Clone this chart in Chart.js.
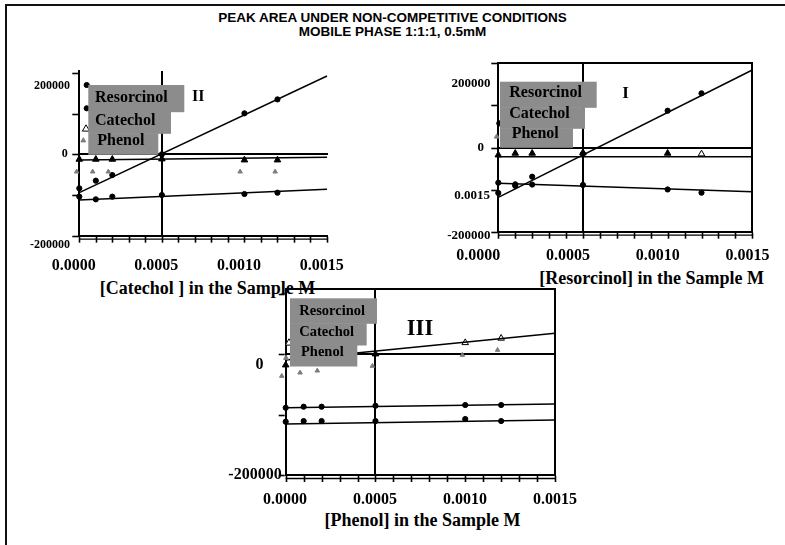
<!DOCTYPE html>
<html>
<head>
<meta charset="utf-8">
<script src="https://cdn.jsdelivr.net/npm/chart.js@4.4.1/dist/chart.umd.min.js"></script>
<style>
  html, body { margin: 0; padding: 0; background: #fff; }
  body { width: 785px; height: 545px; position: relative; overflow: hidden; }
  #frame { position: absolute; left: 5px; top: 4px; width: 800px; height: 560px;
           border-left: 2px solid #111; border-top: 2px solid #111; }
  .title { position: absolute; left: 0; width: 785px; text-align: center; line-height: 14px;
           font: bold 13.5px "Liberation Sans", Arial, sans-serif; color: #000; }
  .axis-title { position: absolute; width: 400px; text-align: center; line-height: 20px; white-space: nowrap;
                font: bold 18px "Liberation Serif", "Times New Roman", serif; color: #000; }
  canvas { position: absolute; left: 0; top: 0; }
</style>
</head>
<body>
<div id="frame"></div>
<div class="title" style="top:10px">PEAK AREA UNDER NON-COMPETITIVE CONDITIONS</div>
<div class="title" style="top:24px">MOBILE PHASE 1:1:1, 0.5mM</div>
<div class="axis-title" style="left:7.5px; top:278px">[Catechol ] in the Sample M</div>
<div class="axis-title" style="left:451.7px; top:268px">[Resorcinol] in the Sample M</div>
<div class="axis-title" style="left:222.5px; top:510px">[Phenol] in the Sample M</div>
<canvas id="panelII" width="785" height="545"></canvas>
<canvas id="panelI" width="785" height="545"></canvas>
<canvas id="panelIII" width="785" height="545"></canvas>
<script>
// ---- data -------------------------------------------------------------
const concentration = [0, 0.0001, 0.0002, 0.0005, 0.0010, 0.0012];   // M
const trendX = [0, 0.0015];                                          // trendline ends
const xTickLabels = [0, 0.0005, 0.0010, 0.0015];
const xTickMarks = [0, 0.0001, 0.0002, 0.0003, 0.0004, 0.0005, 0.0006, 0.0007,
                    0.0008, 0.0009, 0.0010, 0.0011, 0.0012, 0.0013, 0.0014, 0.0015];
const yTickLabels = [200000, -200000];
const yTickMarks = [-200000, -100000, 0, 100000, 200000];
const seriesNames = ['Resorcinol', 'Catechol', 'Phenol'];

// I: resorcinol varied
const resorcinolI = [-108000, -91000, -69400, -15000, 87400, 128700];
const catecholI   = [-83600, -87400, -88000, -89000, -99700, -107300];
const phenolI     = [-17800, -13800, -13800, -12300, -13800, -15400];
const resorcinolTrendI = [-118300, 184000];
const catecholTrendI   = [-85000, -105000];
const phenolTrendI     = [-21800, -21800];

// II: catechol varied
const resorcinolII = [-104000, -110600, -104000, -100000, -97500, -94300];
const catecholII   = [-83500, -64800, -50900, 0, 100700, 135000];
const phenolII     = [-12300, -12300, -12300, -11500, -14000, -14000];
const resorcinolTrendII = [-112300, -86000];
const catecholTrendII   = [-94300, 192400];
const phenolTrendII     = [-14000, -7400];
const phenolRepeatXII = [-0.000016, 0.000081, 0.000176, 0.000974, 0.001186];
const phenolRepeatII  = [-42700, -42700, -42700, -42700, -42700];

// III: phenol varied
const resorcinolIII = [-88800, -87100, -87100, -85500, -84300, -84300];
const catecholIII   = [-111900, -110800, -110800, -110800, -107400, -110800];
const phenolIII     = [-18200, -7000, -4000, 0, 18700, 26000];
const resorcinolTrendIII = [-88800, -82700];
const catecholTrendIII   = [-115700, -109100];
const phenolTrendIII     = [-9900, 34200];
const phenolRepeatXIII = [-0.000022, 0.00008, 0.000176, 0.000483, 0.000984, 0.00118];
const phenolRepeatIII  = [-36400, -30900, -27600, -19800, -1650, 6600];

// ---- helpers ----------------------------------------------------------
const SERIF = '"Liberation Serif", "Times New Roman", serif';
const BLACK = '#000';
const GREY_MARK = '#7d7d7d';
const LEGEND_FILL = '#8c8c8c';
const CLEAR = 'rgba(0,0,0,0)';
const X_MAX = 0.0015;
const Y_MIN = -200000;
const TICK_LEN = 6;

const pts = (xs, ys) => xs.map((x, i) => ({ x, y: ys[i] }));
const flatW = s => { s.width = 0; };
const flatH = s => { s.height = 0; };
const near = (a, b) => Math.abs(a - b) < 1e-9;
const serif = size => ({ family: SERIF, weight: 'bold', size });

// min/max of a vertical axis whose value v sits at pixel p, with ppu pixels per unit
function shiftedY(area, v, p, ppu) {
  return { min: v - (area.bottom - p) / ppu, max: v + (p - area.top) / ppu };
}
// min/max of a horizontal axis whose value v sits at pixel p
function shiftedX(area, v, p, ppu) {
  return { min: v - (p - area.left) / ppu, max: v + (area.right - p) / ppu };
}

// axes that only carry tick labels, anchored to a value of the data axes
function labelAxisX(values, range, size, padding) {
  return {
    axis: 'x', type: 'linear', position: { y: Y_MIN }, min: range.min, max: range.max, bounds: 'data',
    afterFit: flatH,
    afterBuildTicks: s => { s.ticks = values.map(v => ({ value: v })); },
    ticks: { autoSkip: false, maxRotation: 0, minRotation: 0, padding, color: BLACK,
             font: serif(size), callback: v => v.toFixed(4) },
    grid: { display: false, drawTicks: false },
    border: { display: false }
  };
}
function labelAxisY(values, range, atX, size, format) {
  return {
    axis: 'y', type: 'linear', position: { x: atX }, min: range.min, max: range.max, bounds: 'data',
    afterFit: flatW,
    afterBuildTicks: s => { s.ticks = values.map(v => ({ value: v })); },
    ticks: { autoSkip: false, padding: 0, color: BLACK, font: serif(size), callback: format },
    grid: { display: false, drawTicks: false },
    border: { display: false }
  };
}

// plain axis line: panel frame and the axis crossing at y = 0
function lineAxis(axis, position, width) {
  const horizontal = axis === 'x';
  return {
    axis, type: 'linear', position, min: 0, max: 1,
    afterFit: horizontal ? flatH : flatW,
    ticks: { display: false },
    grid: { display: false, drawTicks: false },
    border: { display: true, color: BLACK, width: width || 2 }
  };
}

const trend = ys => ({
  data: pts(trendX, ys), showLine: true, borderColor: BLACK, borderWidth: 1.5,
  pointRadius: 0, clip: false, xAxisID: 'x', yAxisID: 'y'
});
const marks = (xs, ys, style, r, fill, stroke) => ({
  data: pts(xs, ys), showLine: false, pointStyle: style, pointRadius: r,
  pointBackgroundColor: fill, pointBorderColor: stroke || BLACK, pointBorderWidth: 1,
  clip: false, xAxisID: 'x', yAxisID: 'y'
});

function drawMark(ctx, m) {
  ctx.beginPath();
  if (m.style === 'circle') {
    ctx.arc(m.x, m.y, m.r, 0, Math.PI * 2);
  } else {
    ctx.moveTo(m.x, m.y - m.r);
    ctx.lineTo(m.x + m.r * 0.866, m.y + m.r * 0.5);
    ctx.lineTo(m.x - m.r * 0.866, m.y + m.r * 0.5);
    ctx.closePath();
  }
  ctx.fillStyle = m.fill; ctx.fill();
  ctx.strokeStyle = m.stroke || m.fill; ctx.lineWidth = 1; ctx.stroke();
}

function segment(ctx, x1, y1, x2, y2) {
  ctx.beginPath(); ctx.moveTo(x1, y1); ctx.lineTo(x2, y2); ctx.stroke();
}

// outward tick marks, doubled base line, grey legend boxes, legend keys, panel numeral
const panelDecor = {
  id: 'panelDecor',
  afterDatasetsDraw(chart, args, o) {
    const ctx = chart.ctx;
    const sx = chart.scales.x, sy = chart.scales.y, a = chart.chartArea;
    ctx.save();
    ctx.strokeStyle = BLACK;
    ctx.lineWidth = 1.6;
    xTickMarks.forEach(v => {
      const px = Math.round(sx.getPixelForValue(v)) + 0.5;
      segment(ctx, px, a.bottom + 1, px, a.bottom + 1 + TICK_LEN);
    });
    yTickMarks.filter(v => v >= sy.min && v <= sy.max).forEach(v => {
      const py = Math.round(sy.getPixelForValue(v)) + 0.5;
      segment(ctx, a.left - 1 - TICK_LEN, py, a.left - 1, py);
    });
    ctx.lineWidth = 1.3;
    segment(ctx, a.left, a.bottom + 3.5, a.right, a.bottom + 3.5);

    (o.keys || []).forEach(m => drawMark(ctx, m));
    const L = o.legend;
    ctx.fillStyle = LEGEND_FILL;
    seriesNames.forEach((n, i) => {
      ctx.fillRect(L.left, L.rows[i], L.rights[i] - L.left, L.rows[i + 1] - L.rows[i] + 0.5);
    });
    ctx.fillStyle = BLACK;
    ctx.textBaseline = 'middle';
    ctx.textAlign = 'left';
    ctx.font = `bold ${L.size}px ${SERIF}`;
    seriesNames.forEach((n, i) => ctx.fillText(n, L.textX[i], L.textY[i]));
    const R = o.numeral;
    ctx.textAlign = 'center';
    ctx.font = `bold ${R.size}px ${SERIF}`;
    ctx.fillText(R.text, R.x, R.y);
    ctx.restore();
  }
};

function buildPanel(id, p) {
  const a = p.area;
  const xAt = px => (px - a.left) / (a.right - a.left) * X_MAX;   // data x at a pixel column
  const scales = {
    x: {
      type: 'linear', position: 'bottom', min: 0, max: X_MAX, afterFit: flatH,
      afterBuildTicks: s => { s.ticks = xTickMarks.map(v => ({ value: v })); },
      ticks: { display: true, autoSkip: false, callback: () => '' },
      grid: { color: c => (c.tick && near(c.tick.value, 0.0005)) ? BLACK : CLEAR, lineWidth: 2,
              drawTicks: false },
      border: { display: true, color: BLACK, width: 2 }
    },
    y: {
      type: 'linear', position: 'left', min: Y_MIN, max: p.yMax, afterFit: flatW,
      afterBuildTicks: s => {
        s.ticks = yTickMarks.filter(v => v >= s.min && v <= s.max).map(v => ({ value: v }));
      },
      ticks: { display: true, autoSkip: false, callback: () => '' },
      grid: { color: CLEAR, drawTicks: false },
      border: { display: true, color: BLACK, width: 2 }
    },
    xZero: lineAxis('x', { y: 0 }, 2),
    xl: labelAxisX(xTickLabels, shiftedX(a, 0, p.xLab.at, p.xLab.ppu), 16, p.xLab.pad)
  };
  p.yLabs.forEach((yl, i) => {
    scales['yl' + i] = labelAxisY(yl.values, shiftedY(a, yl.values[0], yl.at, yl.ppu),
                                  xAt(yl.right), yl.size, yl.format || (v => String(v)));
  });
  if (p.box) { scales.xTop = lineAxis('x', 'top'); scales.yRight = lineAxis('y', 'right'); }

  new Chart(document.getElementById(id), {
    type: 'scatter',
    data: { datasets: p.datasets },
    options: {
      responsive: false, animation: false, devicePixelRatio: 1,
      layout: { padding: { left: a.left, top: a.top, right: 785 - a.right, bottom: 545 - a.bottom } },
      plugins: { legend: { display: false }, tooltip: { enabled: false }, panelDecor: p.decor },
      scales
    },
    plugins: [panelDecor]
  });
}

// ---- panel II ([Catechol] varied) -------------------------------------
const areaII = { left: 79.3, right: 327, top: 70.9, bottom: 235.7 };
const ppuII = (areaII.bottom - areaII.top) / (205000 - Y_MIN);
buildPanel('panelII', {
  area: areaII,
  yMax: 205000,
  xLab: { at: 73.7, ppu: 248 / 0.0015, pad: 20.4 },
  yLabs: [
    { values: yTickLabels, at: 86, ppu: 159 / 400000, right: 70, size: 12 },
    { values: [0], at: 154.3, ppu: ppuII, right: 67.7, size: 12 }
  ],
  box: false,
  datasets: [
    trend(resorcinolTrendII), trend(catecholTrendII), trend(phenolTrendII),
    marks(phenolRepeatXII, phenolRepeatII, 'triangle', 2.6, GREY_MARK, GREY_MARK),
    marks(concentration, resorcinolII, 'circle', 2.6, BLACK),
    marks(concentration, catecholII, 'circle', 2.6, BLACK),
    marks(concentration, phenolII, 'triangle', 3.8, BLACK)
  ],
  decor: {
    keys: [
      { style: 'circle', x: 86.7, y: 85, r: 2.6, fill: BLACK },
      { style: 'circle', x: 86.7, y: 108.3, r: 2.6, fill: BLACK },
      { style: 'triangle', x: 86, y: 129, r: 4.2, fill: '#fff', stroke: BLACK },
      { style: 'triangle', x: 83.3, y: 140.5, r: 2.8, fill: GREY_MARK }
    ],
    legend: { left: 88.3, rows: [85, 111.7, 133.3, 154.3], rights: [184.3, 171, 158.3],
              textX: [95, 95, 97.3], textY: [98.3, 120.7, 140.7], size: 16 },
    numeral: { text: 'II', x: 198.3, y: 97, size: 16 }
  }
});

// ---- panel I ([Resorcinol] varied) ------------------------------------
const areaI = { left: 498.3, right: 752.3, top: 63.3, bottom: 231.7 };
const ppuI = (areaI.bottom - areaI.top) / 400000;
buildPanel('panelI', {
  area: areaI,
  yMax: 200000,
  xLab: { at: 478.3, ppu: 269.2 / 0.0015, pad: 14.4 },
  yLabs: [
    { values: yTickLabels, at: 84, ppu: 152 / 400000, right: 490.5, size: 13 },
    { values: [0], at: 147.5, ppu: ppuI, right: 484, size: 13 },
    { values: [0.0015], at: 196, ppu: 23718, right: 490, size: 13, format: v => v.toFixed(4) }
  ],
  box: true,
  datasets: [
    trend(resorcinolTrendI), trend(catecholTrendI), trend(phenolTrendI),
    marks(concentration, resorcinolI, 'circle', 2.6, BLACK),
    marks(concentration, catecholI, 'circle', 2.6, BLACK),
    marks(concentration, phenolI, 'triangle', 3.8, [BLACK, BLACK, BLACK, BLACK, BLACK, '#fff'])
  ],
  decor: {
    keys: [
      { style: 'circle', x: 499.3, y: 123.3, r: 2.6, fill: BLACK },
      { style: 'triangle', x: 496.7, y: 136.7, r: 2.8, fill: GREY_MARK }
    ],
    legend: { left: 500, rows: [81.7, 107.3, 128.3, 147.3], rights: [596.7, 585, 573],
              textX: [509.3, 509.3, 511.7], textY: [93.3, 114.3, 134], size: 16 },
    numeral: { text: 'I', x: 625.5, y: 94, size: 17 }
  }
});

// ---- panel III ([Phenol] varied) --------------------------------------
const areaIII = { left: 285.7, right: 555, top: 288.5, bottom: 475 };
buildPanel('panelIII', {
  area: areaIII,
  yMax: 108300,
  xLab: { at: 285, ppu: 270 / 0.0015, pad: 15.4 },
  yLabs: [
    { values: [-200000], at: 475, ppu: 110 / 200000, right: 281.7, size: 16 },
    { values: [0], at: 365, ppu: 110 / 200000, right: 263.5, size: 16 }
  ],
  box: true,
  datasets: [
    trend(resorcinolTrendIII), trend(catecholTrendIII), trend(phenolTrendIII),
    marks(phenolRepeatXIII, phenolRepeatIII, 'triangle', 2.6, GREY_MARK, GREY_MARK),
    marks(concentration, resorcinolIII, 'circle', 2.6, BLACK),
    marks(concentration, catecholIII, 'circle', 2.6, BLACK),
    marks(concentration, phenolIII, 'triangle', 3.8, [BLACK, BLACK, BLACK, BLACK, '#fff', '#fff'])
  ],
  decor: {
    keys: [
      { style: 'triangle', x: 289, y: 343, r: 4.2, fill: '#fff', stroke: BLACK },
      { style: 'triangle', x: 286, y: 358, r: 2.8, fill: GREY_MARK }
    ],
    legend: { left: 290, rows: [298.3, 323.3, 345, 366], rights: [377, 366.7, 357.3],
              textX: [299.3, 299.3, 301], textY: [311, 332.7, 352.3], size: 14.5 },
    numeral: { text: 'III', x: 420, y: 329, size: 22.5 }
  }
});
</script>
</body>
</html>
